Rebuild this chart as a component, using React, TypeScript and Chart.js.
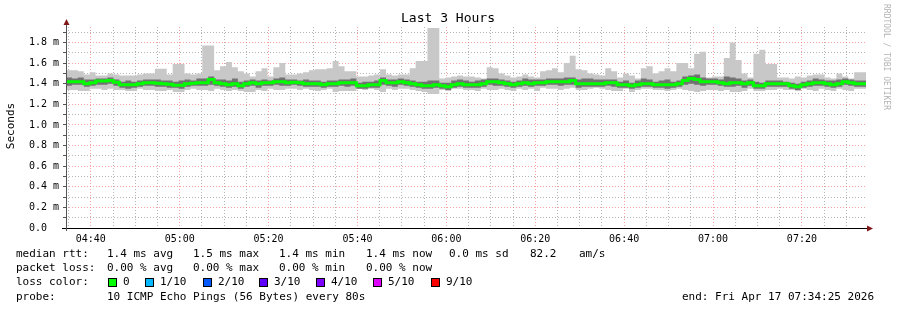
import { useEffect, useRef } from 'react';
import { Chart, registerables } from 'chart.js';
Chart.register(...registerables);

// ---- time axis ----
const START_MIN = 4 * 60 + 34 + 25 / 60; // 04:34:25
const STEP_MIN = 80 / 60; // 80 s step
const SPAN_MIN = 180;

const xTickLabels = ['04:40', '05:00', '05:20', '05:40', '06:00', '06:20', '06:40', '07:00', '07:20'];
const yTickLabels = ['0.0  ', '0.2 m', '0.4 m', '0.6 m', '0.8 m', '1.0 m', '1.2 m', '1.4 m', '1.6 m', '1.8 m'];

// ---- series (ms) ----
const medianRtt = [
  1.42, 1.42, 1.42, 1.40, 1.41, 1.425, 1.425, 1.43, 1.415, 1.39, 1.39, 1.39, 1.40, 1.41, 1.41, 1.405, 1.40, 1.395, 1.385, 1.385, 1.40, 1.405, 1.41,
  1.41, 1.44, 1.41, 1.40, 1.39, 1.40, 1.38, 1.40, 1.41, 1.40, 1.41, 1.41, 1.42, 1.42, 1.41, 1.415, 1.41, 1.40, 1.40, 1.40, 1.39, 1.40,
  1.40, 1.41, 1.41, 1.41, 1.38, 1.38, 1.39, 1.39, 1.43, 1.41, 1.41, 1.42, 1.41, 1.40, 1.39, 1.38, 1.38, 1.39, 1.38, 1.37, 1.39, 1.40, 1.39,
  1.39, 1.39, 1.40, 1.42, 1.42, 1.41, 1.40, 1.39, 1.40, 1.41, 1.40, 1.41, 1.41, 1.42, 1.42, 1.42, 1.42, 1.43, 1.40, 1.40, 1.40, 1.40, 1.40,
  1.41, 1.41, 1.39, 1.39, 1.38, 1.39, 1.40, 1.40, 1.39, 1.39, 1.39, 1.39, 1.40, 1.43, 1.45, 1.44, 1.42, 1.42, 1.42, 1.41, 1.40, 1.41,
  1.41, 1.40, 1.41, 1.38, 1.38, 1.40, 1.40, 1.40, 1.40, 1.38, 1.37, 1.39, 1.40, 1.41, 1.41, 1.40, 1.39, 1.40, 1.42, 1.41, 1.40, 1.40,
];
const maxRtt = [
  1.53, 1.53, 1.52, 1.49, 1.51, 1.48, 1.48, 1.50, 1.49, 1.48, 1.48, 1.48, 1.49, 1.50, 1.50, 1.545, 1.545, 1.49, 1.59, 1.59, 1.50, 1.49, 1.50,
  1.77, 1.77, 1.53, 1.57, 1.61, 1.56, 1.52, 1.50, 1.47, 1.52, 1.55, 1.47, 1.56, 1.60, 1.49, 1.49, 1.50, 1.51, 1.53, 1.54, 1.54, 1.55,
  1.62, 1.57, 1.52, 1.52, 1.47, 1.47, 1.48, 1.49, 1.54, 1.49, 1.48, 1.49, 1.49, 1.55, 1.62, 1.62, 1.94, 1.94, 1.45, 1.46, 1.47, 1.48, 1.47,
  1.47, 1.46, 1.45, 1.56, 1.55, 1.50, 1.48, 1.46, 1.47, 1.49, 1.47, 1.46, 1.52, 1.53, 1.55, 1.51, 1.60, 1.67, 1.54, 1.53, 1.50, 1.49, 1.48,
  1.55, 1.52, 1.46, 1.50, 1.48, 1.45, 1.55, 1.57, 1.50, 1.52, 1.55, 1.52, 1.60, 1.60, 1.55, 1.69, 1.71, 1.46, 1.47, 1.47, 1.65, 1.80,
  1.63, 1.50, 1.46, 1.69, 1.73, 1.59, 1.59, 1.46, 1.46, 1.45, 1.47, 1.46, 1.48, 1.49, 1.49, 1.46, 1.45, 1.50, 1.47, 1.45, 1.51, 1.51,
];
const minRtt = [
  1.34, 1.34, 1.33, 1.33, 1.35, 1.35, 1.34, 1.35, 1.34, 1.34, 1.33, 1.33, 1.35, 1.34, 1.34, 1.33, 1.33, 1.34, 1.32, 1.32, 1.34, 1.35, 1.34,
  1.34, 1.33, 1.35, 1.34, 1.33, 1.34, 1.33, 1.32, 1.32, 1.34, 1.33, 1.35, 1.34, 1.34, 1.35, 1.35, 1.34, 1.35, 1.34, 1.33, 1.34, 1.35,
  1.32, 1.33, 1.33, 1.33, 1.35, 1.34, 1.35, 1.34, 1.32, 1.35, 1.34, 1.35, 1.35, 1.34, 1.33, 1.32, 1.30, 1.30, 1.34, 1.33, 1.35, 1.35, 1.34,
  1.34, 1.33, 1.35, 1.34, 1.34, 1.35, 1.34, 1.33, 1.35, 1.34, 1.35, 1.33, 1.36, 1.35, 1.35, 1.34, 1.35, 1.36, 1.34, 1.34, 1.35, 1.36, 1.35,
  1.34, 1.33, 1.33, 1.35, 1.32, 1.34, 1.35, 1.35, 1.34, 1.34, 1.33, 1.34, 1.35, 1.34, 1.33, 1.32, 1.33, 1.34, 1.34, 1.33, 1.34, 1.32,
  1.32, 1.33, 1.35, 1.33, 1.33, 1.34, 1.34, 1.35, 1.34, 1.34, 1.33, 1.35, 1.34, 1.33, 1.35, 1.34, 1.33, 1.35, 1.34, 1.33, 1.35, 1.35,
];
const hiRtt = [
  1.46, 1.45, 1.46, 1.44, 1.44, 1.45, 1.45, 1.46, 1.44, 1.42, 1.43, 1.42, 1.43, 1.44, 1.44, 1.44, 1.43, 1.43, 1.42, 1.43, 1.44, 1.43, 1.45,
  1.45, 1.47, 1.44, 1.44, 1.43, 1.45, 1.42, 1.43, 1.44, 1.43, 1.44, 1.43, 1.45, 1.46, 1.44, 1.44, 1.43, 1.44, 1.43, 1.43, 1.42, 1.43,
  1.43, 1.44, 1.44, 1.45, 1.41, 1.42, 1.42, 1.43, 1.46, 1.44, 1.44, 1.45, 1.44, 1.43, 1.42, 1.42, 1.43, 1.43, 1.41, 1.41, 1.43, 1.44, 1.43,
  1.42, 1.43, 1.44, 1.45, 1.45, 1.44, 1.43, 1.42, 1.43, 1.45, 1.44, 1.44, 1.44, 1.45, 1.45, 1.45, 1.46, 1.46, 1.44, 1.45, 1.45, 1.44, 1.44,
  1.44, 1.44, 1.42, 1.43, 1.41, 1.43, 1.45, 1.44, 1.42, 1.43, 1.44, 1.42, 1.43, 1.47, 1.48, 1.49, 1.46, 1.45, 1.45, 1.44, 1.47, 1.46,
  1.45, 1.43, 1.44, 1.42, 1.41, 1.43, 1.43, 1.43, 1.42, 1.41, 1.40, 1.42, 1.43, 1.45, 1.44, 1.43, 1.43, 1.44, 1.45, 1.44, 1.43, 1.43,
];
const loRtt = [
  1.38, 1.39, 1.39, 1.37, 1.38, 1.39, 1.39, 1.40, 1.38, 1.36, 1.35, 1.36, 1.37, 1.38, 1.38, 1.37, 1.37, 1.36, 1.36, 1.35, 1.37, 1.38, 1.38,
  1.38, 1.39, 1.38, 1.37, 1.36, 1.37, 1.35, 1.37, 1.38, 1.36, 1.38, 1.38, 1.39, 1.38, 1.38, 1.39, 1.38, 1.37, 1.37, 1.37, 1.36, 1.37,
  1.37, 1.38, 1.37, 1.38, 1.35, 1.35, 1.36, 1.36, 1.39, 1.38, 1.37, 1.39, 1.38, 1.37, 1.36, 1.35, 1.35, 1.36, 1.35, 1.34, 1.36, 1.37, 1.36,
  1.36, 1.36, 1.37, 1.39, 1.38, 1.38, 1.37, 1.36, 1.37, 1.38, 1.37, 1.38, 1.38, 1.39, 1.39, 1.38, 1.39, 1.39, 1.36, 1.37, 1.37, 1.37, 1.37,
  1.38, 1.37, 1.36, 1.36, 1.35, 1.36, 1.37, 1.37, 1.36, 1.36, 1.35, 1.36, 1.37, 1.39, 1.40, 1.39, 1.38, 1.39, 1.39, 1.38, 1.37, 1.37,
  1.38, 1.36, 1.38, 1.35, 1.35, 1.37, 1.37, 1.37, 1.37, 1.35, 1.34, 1.36, 1.37, 1.38, 1.38, 1.37, 1.36, 1.37, 1.39, 1.38, 1.37, 1.37,
];

// ---- legend ----
const lossLevels = ['0', '1/10', '2/10', '3/10', '4/10', '5/10', '9/10'];
const lossColors = ['#00ff00', '#00b8ff', '#0059ff', '#5e00ff', '#7e00ff', '#dd00ff', '#ff0000'];
const lossBoxX = [108, 145, 203, 259, 316, 373, 431];
const rttLine: [number, string][] = [
  [16, 'median rtt:'], [107, '1.4 ms avg'], [193, '1.5 ms max'], [279, '1.4 ms min'],
  [366, '1.4 ms now'], [449, '0.0 ms sd'], [530, '82.2'], [579, 'am/s'],
];
const lossLine: [number, string][] = [
  [16, 'packet loss:'], [107, '0.00 % avg'], [193, '0.00 % max'], [279, '0.00 % min'], [366, '0.00 % now'],
];

const MONO = '"DejaVu Sans Mono", monospace';
const MAJOR_GRID = 'rgba(250,110,110,0.65)';
const MINOR_GRID = 'rgba(150,150,150,0.7)';

function steps(values: number[]) {
  const pts = values.map((v, i) => ({ x: i * STEP_MIN, y: v }));
  pts.push({ x: SPAN_MIN, y: values[values.length - 1] });
  return pts;
}

function isMajorX(v: number) {
  const m = (START_MIN + v) % 20;
  return Math.abs(m) < 0.01 || Math.abs(m - 20) < 0.01;
}
function xLabel(v: number) {
  if (!isMajorX(v)) return '';
  const k = Math.round((START_MIN + v - (4 * 60 + 40)) / 20);
  return xTickLabels[k] ?? '';
}
function isMajorY(v: number) {
  return Math.abs(Math.round(v * 10) % 2) === 0;
}

const decor = {
  id: 'decor',
  afterDraw(chart: any) {
    const ctx = chart.ctx as CanvasRenderingContext2D;
    const { left, right, bottom } = chart.chartArea;
    ctx.save();
    // axes
    ctx.lineWidth = 1;
    ctx.strokeStyle = '#000';
    ctx.beginPath();
    ctx.moveTo(left - 4, bottom + 0.5);
    ctx.lineTo(right + 3, bottom + 0.5);
    ctx.stroke();
    ctx.strokeStyle = '#555';
    ctx.beginPath();
    ctx.moveTo(left + 0.5, bottom + 3);
    ctx.lineTo(left + 0.5, 24);
    ctx.stroke();
    ctx.fillStyle = '#801818';
    ctx.beginPath();
    ctx.moveTo(right + 7, bottom + 0.5);
    ctx.lineTo(right + 1, bottom - 2.5);
    ctx.lineTo(right + 1, bottom + 3.5);
    ctx.closePath();
    ctx.fill();
    ctx.beginPath();
    ctx.moveTo(left + 0.5, 19);
    ctx.lineTo(left - 2.5, 25);
    ctx.lineTo(left + 3.5, 25);
    ctx.closePath();
    ctx.fill();

    // title
    ctx.fillStyle = '#000';
    ctx.font = `13px ${MONO}`;
    ctx.textAlign = 'center';
    ctx.textBaseline = 'middle';
    ctx.fillText('Last 3 Hours', 448, 19);

    // y title
    ctx.save();
    ctx.translate(11, 126);
    ctx.rotate(-Math.PI / 2);
    ctx.font = `11px ${MONO}`;
    ctx.fillText('Seconds', 0, 0);
    ctx.restore();

    // watermark
    ctx.save();
    ctx.translate(886, 4);
    ctx.rotate(Math.PI / 2);
    ctx.font = `8px ${MONO}`;
    ctx.textAlign = 'left';
    ctx.fillStyle = '#b4b4b4';
    ctx.fillText('RRDTOOL / TOBI OETIKER', 0, 0);
    ctx.restore();

    // legend
    ctx.font = `11px ${MONO}`;
    ctx.textAlign = 'left';
    ctx.fillStyle = '#000';
    const y1 = 254, y2 = 268.3, y3 = 282.5, y4 = 296.7;
    rttLine.forEach(([x, t]) => ctx.fillText(t, x, y1));
    lossLine.forEach(([x, t]) => ctx.fillText(t, x, y2));
    ctx.fillText('loss color:', 16, y3);
    lossLevels.forEach((lab, i) => {
      const bx = lossBoxX[i];
      ctx.fillStyle = lossColors[i];
      ctx.fillRect(bx, y3 - 4.5, 9, 9);
      ctx.strokeStyle = '#000';
      ctx.strokeRect(bx + 0.5, y3 - 4, 8, 8);
      ctx.fillStyle = '#000';
      ctx.fillText(lab, bx + 15, y3);
    });
    ctx.fillText('probe:', 16, y4);
    ctx.fillText('10 ICMP Echo Pings (56 Bytes) every 80s', 107, y4);
    ctx.fillText('end: Fri Apr 17 07:34:25 2026', 682, y4);
    ctx.restore();
  },
};

export default function App() {
  const ref = useRef<HTMLCanvasElement | null>(null);
  useEffect(() => {
    document.body.style.margin = '0';
    const canvas = ref.current!;
    const xTicks: number[] = [];
    for (let k = 0; k < 36; k++) xTicks.push(35 - (START_MIN - 4 * 60) + 5 * k);
    const yTicks: number[] = [];
    for (let k = 0; k <= 19; k++) yTicks.push(k / 10);
    const band = { borderWidth: 0, borderColor: 'transparent', pointRadius: 0, stepped: true as const };
    const chart = new Chart(canvas, {
      type: 'line',
      data: {
        datasets: [
          { ...band, data: steps(minRtt), fill: false, order: 5 },
          { ...band, data: steps(maxRtt), fill: '-1', backgroundColor: '#c8c8c8', order: 4 },
          { ...band, data: steps(loRtt), fill: false, order: 3 },
          { ...band, data: steps(hiRtt), fill: '-1', backgroundColor: '#727272', order: 2 },
          { data: steps(medianRtt), borderColor: '#00ff00', borderWidth: 3, pointRadius: 0, stepped: true, fill: false, order: 0 },
        ],
      },
      options: {
        animation: false,
        responsive: false,
        layout: { padding: { top: 27, right: 31, bottom: 0, left: 0 } },
        plugins: { legend: { display: false }, title: { display: false }, tooltip: { enabled: false } },
        scales: {
          x: {
            type: 'linear',
            min: 0,
            max: SPAN_MIN,
            afterBuildTicks: (s: any) => { s.ticks = xTicks.map((v) => ({ value: v })); },
            afterFit: (s: any) => { s.height = 82; },
            ticks: {
              autoSkip: false, maxRotation: 0, padding: 3,
              font: { family: MONO, size: 10 }, color: '#000',
              callback: (v: any) => xLabel(Number(v)),
            },
            grid: {
              color: (c: any) => (isMajorX(c.tick.value) ? MAJOR_GRID : MINOR_GRID),
              lineWidth: 1,
              tickLength: 2,
              tickColor: 'transparent',
            },
            border: { display: false, dash: [1, 2] },
          },
          y: {
            type: 'linear',
            min: 0,
            max: 1.95,
            afterBuildTicks: (s: any) => { s.ticks = yTicks.map((v) => ({ value: v })); },
            afterFit: (s: any) => { s.width = 66; },
            ticks: {
              autoSkip: false, padding: 4,
              font: { family: MONO, size: 10 }, color: '#000',
              callback: (v: any) => {
                const n = Number(v);
                if (!isMajorY(n)) return '';
                return yTickLabels[Math.round(n * 5)] ?? '';
              },
            },
            grid: {
              color: (c: any) => (isMajorY(c.tick.value) && c.tick.value > 0 ? MAJOR_GRID : MINOR_GRID),
              lineWidth: 1,
              tickLength: 3,
              tickColor: '#555',
              tickBorderDash: [],
            },
            border: { display: false, dash: [1, 2] },
          },
        },
      },
      plugins: [decor],
    } as any);
    return () => chart.destroy();
  }, []);
  return (
    <div style={{ position: 'absolute', left: 0, top: 0, width: 897, height: 310, background: '#fff' }}>
      <canvas ref={ref} width={897} height={310} style={{ display: 'block' }} />
    </div>
  );
}
